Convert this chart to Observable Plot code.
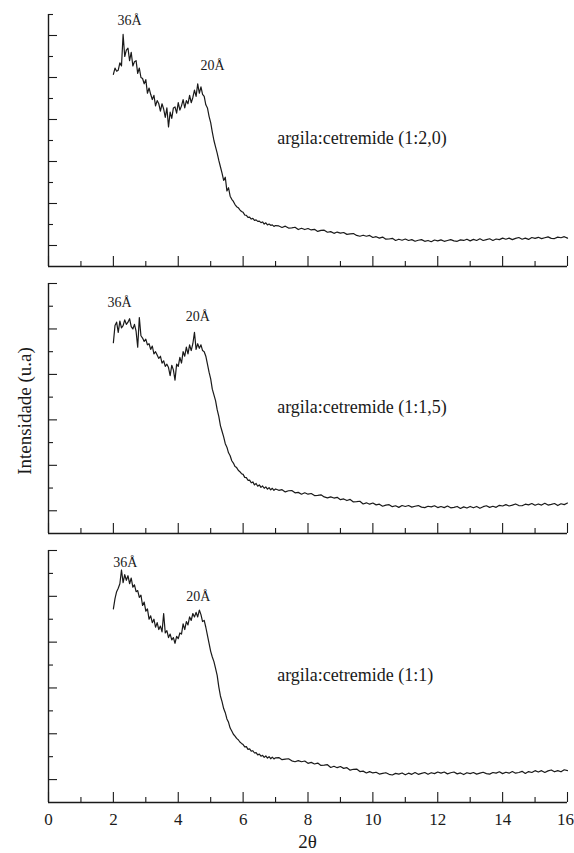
<!DOCTYPE html>
<html><head><meta charset="utf-8">
<script src="https://cdn.jsdelivr.net/npm/d3@7"></script>
<script src="https://cdn.jsdelivr.net/npm/@observablehq/plot@0.6"></script>
<style>
body{margin:0;background:#fff;}
#chart{position:relative;width:574px;height:853px;font-family:"Liberation Serif","Times New Roman",serif;color:#1a1a1a;}
#chart svg{position:absolute;left:0;overflow:visible;}
.ylab{position:absolute;left:23.5px;top:411px;transform:translate(-50%,-50%) rotate(-90deg);white-space:nowrap;font-size:19px;line-height:1;}
.xlab{position:absolute;left:307.5px;top:832px;transform:translateX(-50%);white-space:nowrap;font-size:19px;line-height:1;}
</style></head>
<body><div id="chart"></div>
<script>
// ---- sampling grid (2θ) ----
const fineStart = 2.0, fineStep = 0.05;     // 2.00 … 7.00
const coarseStart = 7.1, coarseStep = 0.1;  // 7.1 … 16.0

// ---- axis ticks ----
const xMajor = [0, 2, 4, 6, 8, 10, 12, 14, 16];
const xMinor = [1, 3, 5, 7, 9, 11, 13, 15];

// ---- panel 1: argila:cetremide (1:2,0) ----
const p1Fine = [9.15,9.45,9.3,9.35,9.7,9.55,11.05,10.0,10.3,10.4,9.8,10.2,9.55,9.75,9.8,9.2,9.45,9.0,8.95,8.7,
8.9,8.25,8.5,8.2,7.95,8.15,7.65,7.9,7.75,7.4,7.75,7.5,7.1,7.55,6.65,7.35,7.05,7.55,7.6,7.3,
7.8,7.45,7.65,7.95,7.55,7.9,7.75,8.15,7.8,8.05,8.4,8.1,8.7,8.25,8.55,8.2,8.1,7.7,7.55,7.15,
6.85,6.4,6.0,5.7,5.4,5.05,4.75,4.45,4.1,4.25,3.6,3.75,3.35,3.2,3.1,2.95,2.85,2.8,2.7,2.62,
2.58,2.45,2.44,2.34,2.35,2.26,2.29,2.2,2.22,2.15,2.16,2.09,2.12,2.02,2.08,1.98,2.02,1.96,1.98,1.91,1.95];
const p1Coarse = [1.93,1.86,1.92,1.83,1.84,1.87,1.76,1.82,1.76,1.81,
1.74,1.77,1.67,1.72,1.73,1.63,1.66,1.58,1.64,1.59,
1.62,1.53,1.55,1.57,1.48,1.44,1.49,1.44,1.48,1.38,
1.42,1.35,1.40,1.30,1.31,1.34,1.24,1.30,1.25,1.31,
1.24,1.28,1.20,1.25,1.28,1.20,1.24,1.18,1.26,1.22,
1.27,1.20,1.24,1.28,1.22,1.20,1.27,1.24,1.30,1.22,
1.29,1.24,1.32,1.24,1.28,1.32,1.24,1.31,1.28,1.35,
1.30,1.35,1.28,1.34,1.38,1.30,1.35,1.29,1.38,1.34,
1.39,1.33,1.37,1.41,1.34,1.33,1.40,1.37,1.42,1.35];
const p1Peaks = [{t:"36Å", x:2.5, y:11.7}, {t:"20Å", x:5.06, y:9.57}];
const p1Label = {t:"argila:cetremide (1:2,0)", x:7.05, y:6.1};

// ---- panel 2: argila:cetremide (1:1,5) ----
const p2Fine = [8.4,9.15,9.3,8.85,9.35,9.05,9.15,9.4,9.2,9.3,9.45,9.1,9.0,9.2,8.9,8.2,9.5,8.7,8.6,8.45,
8.55,8.3,8.35,8.1,8.25,7.9,8.0,7.85,7.7,7.8,7.5,7.6,7.35,7.45,7.3,6.95,7.4,7.2,6.75,7.45,
7.35,7.75,7.5,8.0,7.8,8.2,7.9,8.3,8.05,8.35,8.85,8.1,8.35,8.15,8.3,8.05,8.0,7.8,7.45,7.1,
6.8,6.35,6.1,5.85,5.45,5.15,4.75,4.5,4.25,3.95,3.8,3.55,3.42,3.2,3.1,2.95,2.9,2.78,2.72,2.63,
2.6,2.47,2.46,2.34,2.35,2.23,2.27,2.14,2.2,2.08,2.14,2.03,2.09,1.99,2.05,1.95,2.02,1.92,1.99,1.9,1.96];
const p2Coarse = [1.90,1.93,1.83,1.88,1.89,1.79,1.81,1.73,1.79,1.73,
1.76,1.67,1.68,1.70,1.61,1.57,1.61,1.56,1.59,1.49,
1.52,1.45,1.50,1.39,1.40,1.42,1.30,1.35,1.29,1.34,
1.26,1.29,1.20,1.25,1.27,1.18,1.22,1.15,1.23,1.19,
1.23,1.16,1.20,1.23,1.16,1.14,1.20,1.17,1.22,1.14,
1.19,1.14,1.21,1.13,1.15,1.19,1.10,1.17,1.12,1.19,
1.13,1.19,1.11,1.18,1.22,1.15,1.20,1.15,1.24,1.21,
1.27,1.21,1.25,1.30,1.23,1.22,1.29,1.26,1.32,1.24,
1.30,1.25,1.33,1.25,1.28,1.32,1.23,1.31,1.27,1.34];
const p2Peaks = [{t:"36Å", x:2.19, y:10.15}, {t:"20Å", x:4.6, y:9.53}];
const p2Label = {t:"argila:cetremide (1:1,5)", x:7.05, y:5.57};

// ---- panel 3: argila:cetremide (1:1) ----
const p3Fine = [8.45,8.9,9.2,9.35,9.55,10.15,9.6,9.95,9.7,9.9,9.55,9.8,9.4,9.5,9.2,9.25,8.95,9.05,8.6,8.75,
8.35,8.45,8.0,8.15,7.85,8.0,7.65,7.85,7.55,7.7,7.45,8.25,7.4,7.5,7.2,7.35,7.1,7.2,6.95,7.25,
7.15,7.4,7.35,7.8,7.55,7.9,7.75,8.1,7.95,8.25,8.1,8.3,8.1,8.4,8.2,7.9,7.95,7.65,7.3,6.95,
6.6,6.35,6.15,5.85,5.55,5.05,4.65,4.4,4.1,3.92,3.65,3.5,3.25,3.12,2.98,2.9,2.8,2.74,2.64,2.58,
2.53,2.43,2.44,2.32,2.34,2.24,2.26,2.16,2.18,2.08,2.11,2.02,2.06,1.97,2.03,1.94,2.0,1.91,1.98,1.9,1.95];
const p3Coarse = [1.96,1.87,1.89,1.91,1.82,1.78,1.83,1.78,1.81,1.71,
1.75,1.68,1.72,1.62,1.63,1.65,1.53,1.58,1.52,1.57,
1.49,1.52,1.41,1.45,1.46,1.35,1.37,1.29,1.35,1.29,
1.32,1.24,1.27,1.30,1.23,1.20,1.27,1.24,1.29,1.21,
1.28,1.23,1.31,1.23,1.27,1.31,1.23,1.30,1.26,1.33,
1.28,1.33,1.25,1.30,1.33,1.25,1.29,1.22,1.30,1.26,
1.31,1.24,1.28,1.32,1.26,1.24,1.31,1.28,1.34,1.26,
1.32,1.28,1.35,1.28,1.31,1.36,1.27,1.35,1.31,1.39,
1.33,1.39,1.31,1.38,1.42,1.34,1.39,1.34,1.43,1.39];
const p3Peaks = [{t:"36Å", x:2.37, y:10.49}, {t:"20Å", x:4.62, y:8.97}];
const p3Label = {t:"argila:cetremide (1:1)", x:7.05, y:5.56};

const ink = "#1a1a1a";
const serif = '"Liberation Serif", "Times New Roman", serif';
const chart = document.getElementById("chart");

function series(fine, coarse) {
  return fine.map((v, i) => ({x: +(fineStart + i * fineStep).toFixed(3), y: v}))
    .concat(coarse.map((v, i) => ({x: +(coarseStart + i * coarseStep).toFixed(3), y: v})));
}

function panel({fine, coarse, peaks, label, yMax, top, height, marginTop, marginBottom, showX}) {
  const yMajor = d3.range(1, yMax + 1, 2);
  const yMinor = d3.range(2, yMax + 1, 2);
  const marks = [
    Plot.axisY({ticks: yMajor, tickSize: -9, tickFormat: () => "", label: null, stroke: ink, strokeWidth: 1.1}),
    Plot.axisY({ticks: yMinor, tickSize: -5, tickFormat: () => "", label: null, stroke: ink, strokeWidth: 1.1}),
    Plot.axisX({ticks: xMajor, tickSize: -10, tickFormat: () => "", label: null, stroke: ink, strokeWidth: 1.1}),
    Plot.axisX({ticks: xMinor, tickSize: -5, tickFormat: () => "", label: null, stroke: ink, strokeWidth: 1.1}),
    Plot.ruleX([0], {stroke: ink, strokeWidth: 1.4}),
    Plot.ruleY([0], {stroke: ink, strokeWidth: 1.4}),
    Plot.line(series(fine, coarse), {x: "x", y: "y", stroke: ink, strokeWidth: 1.2}),
    Plot.text(peaks, {x: "x", y: "y", text: "t", fontSize: 14, fontFamily: serif, fill: ink}),
    Plot.text([label], {x: "x", y: "y", text: "t", fontSize: 18, fontFamily: serif, textAnchor: "start", fill: ink})
  ];
  if (showX) {
    marks.push(Plot.axisX({ticks: xMajor.slice(0, -1), tickSize: 0, tickPadding: 10, label: null, fontSize: 17, fontFamily: serif, fill: ink}));
    marks.push(Plot.axisX({ticks: xMajor.slice(-1), tickSize: 0, tickPadding: 10, label: null, fontSize: 17, fontFamily: serif, fill: ink, dx: -2}));
  }
  const svg = Plot.plot({
    width: 574, height, marginLeft: 48, marginRight: 7, marginTop, marginBottom,
    x: {domain: [0, 16]},
    y: {domain: [0, yMax]},
    style: {fontFamily: serif, fontSize: "17px", color: ink, background: "transparent"},
    marks
  });
  svg.style.top = top + "px";
  chart.appendChild(svg);
}

panel({fine: p1Fine, coarse: p1Coarse, peaks: p1Peaks, label: p1Label, yMax: 12, top: 0, height: 270, marginTop: 14, marginBottom: 4, showX: false});
panel({fine: p2Fine, coarse: p2Coarse, peaks: p2Peaks, label: p2Label, yMax: 11, top: 270, height: 268, marginTop: 13, marginBottom: 5, showX: false});
panel({fine: p3Fine, coarse: p3Coarse, peaks: p3Peaks, label: p3Label, yMax: 11, top: 537, height: 316, marginTop: 13, marginBottom: 51, showX: true});

const yl = document.createElement("div"); yl.className = "ylab"; yl.textContent = "Intensidade (u.a)"; chart.appendChild(yl);
const xl = document.createElement("div"); xl.className = "xlab"; xl.textContent = "2θ"; chart.appendChild(xl);
</script>
</body></html>
